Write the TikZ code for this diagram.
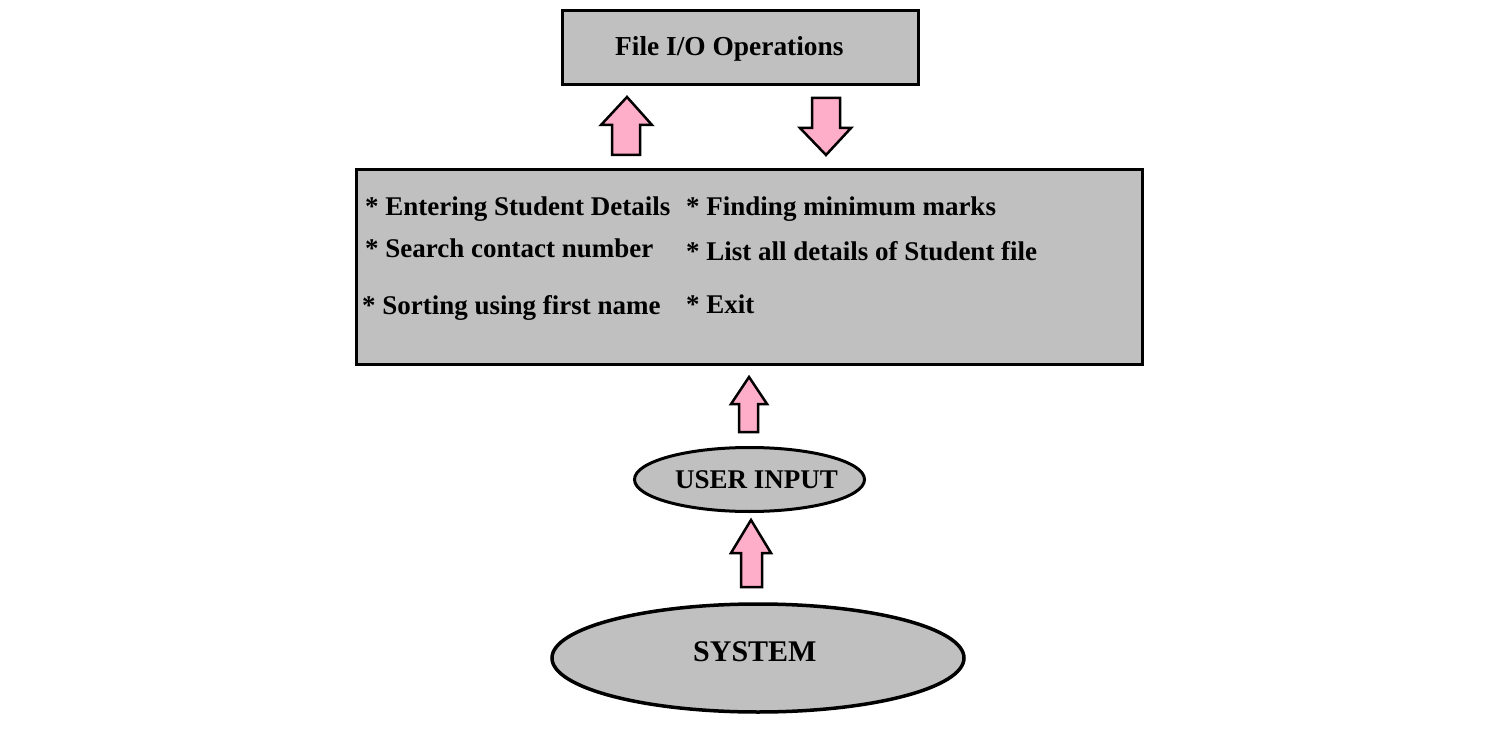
\documentclass[tikz,border=0pt]{standalone}
\usepackage{fontspec}
\setmainfont{Liberation Serif}
\definecolor{boxgray}{RGB}{192,192,192}
\definecolor{arrowpink}{RGB}{255,174,201}
\begin{document}
\begin{tikzpicture}[x=1pt,y=-1pt,
  graybox/.style={draw=black,line width=3pt,fill=boxgray,rectangle,inner sep=0pt},
  blockarrow/.style={draw=black,line width=2.5pt,fill=arrowpink,line join=miter},
  titletext/.style={font=\bfseries\fontsize{27}{32}\selectfont,inner sep=0pt,anchor=base west},
  itemtext/.style={font=\bfseries\fontsize{27}{32}\selectfont,inner sep=0pt,anchor=base west}]
\useasboundingbox (0,0) rectangle (1510,738);
% boxes
\node[graybox,minimum width=356pt,minimum height=74pt] (fio) at (740,48) {};
\node[titletext,font=\bfseries\fontsize{27.4}{32}\selectfont] (fiot) at (615,56) {File I/O Operations};
\node[graybox,minimum width=786pt,minimum height=194pt] (menu) at (749,267) {};
\node[itemtext] (i1) at (365,215) {* Entering Student Details};
\node[itemtext] (i2) at (365,258) {* Search contact number};
\node[itemtext] (i3) at (362,314) {* Sorting using first name};
\node[itemtext] (i4) at (686,215) {* Finding minimum marks};
\node[itemtext] (i5) at (686,260) {* List all details of Student file};
\node[itemtext] (i6) at (686,313) {* Exit};
% ellipses
\draw[draw=black,line width=3pt,fill=boxgray] (749.5,479.5) ellipse [x radius=115,y radius=32];
\node[titletext] (user) at (675,488) {USER INPUT};
\draw[draw=black,line width=3.5pt,fill=boxgray] (758,658) ellipse [x radius=206,y radius=54];
\node[titletext,font=\bfseries\fontsize{30}{36}\selectfont] (sys) at (693,661) {SYSTEM};
% block arrows
\draw[blockarrow] (612,155) -- (612,125) -- (601,125) -- (627,97) -- (652,125) -- (640,125) -- (640,155) -- cycle;
\draw[blockarrow] (812,98) -- (840,98) -- (840,128) -- (851,128) -- (826,155) -- (800,128) -- (812,128) -- cycle;
\draw[blockarrow] (739,432) -- (739,404) -- (731,404) -- (749,377) -- (767,404) -- (758,404) -- (758,432) -- cycle;
\draw[blockarrow] (741,587) -- (741,553) -- (731,553) -- (751,520) -- (771,553) -- (762,553) -- (762,587) -- cycle;
\end{tikzpicture}
\end{document}
